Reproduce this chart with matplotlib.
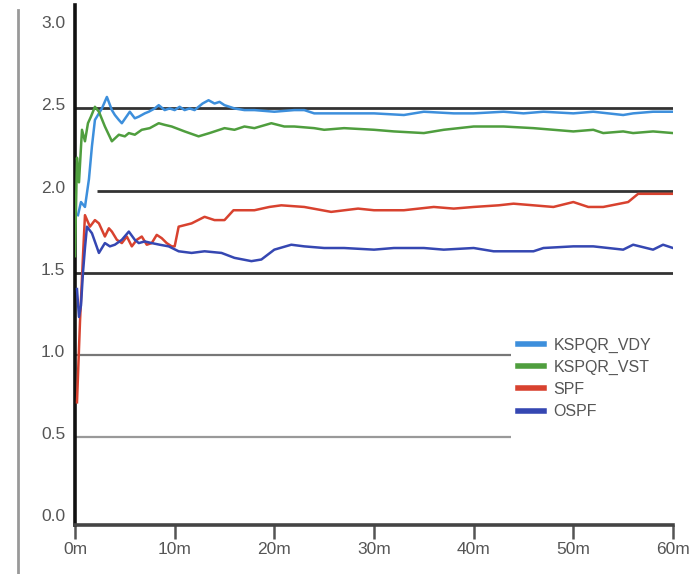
import matplotlib
matplotlib.use("Agg")
import matplotlib.pyplot as plt
import matplotlib.transforms as mtransforms
from matplotlib.lines import Line2D

# ---- data (minutes, value) ----
vdy_t = [0.3, 0.6, 1.0, 1.4, 1.7, 2.0, 2.7, 3.2, 3.7, 4.0, 4.4, 4.7, 5.5, 6.0, 6.4, 7.0, 7.4, 8.0, 8.4, 9.0,
         9.5, 10, 10.5, 11, 11.5, 12, 12.8, 13.4, 14, 14.5, 15, 15.5, 16, 17, 18, 20, 22, 23, 24,
         27, 30, 33, 35, 38, 40, 43, 45, 47, 50, 52, 55, 56, 58, 60]
vdy_v = [1.85, 1.93, 1.90, 2.07, 2.27, 2.43, 2.50, 2.57, 2.49, 2.46, 2.43, 2.41, 2.48, 2.44, 2.45, 2.47, 2.48, 2.50, 2.52, 2.49,
         2.50, 2.49, 2.51, 2.49, 2.50, 2.49, 2.53, 2.55, 2.53, 2.54, 2.52, 2.51, 2.50, 2.49, 2.49, 2.48, 2.49, 2.49, 2.47,
         2.47, 2.47, 2.46, 2.48, 2.47, 2.47, 2.48, 2.47, 2.48, 2.47, 2.48, 2.46, 2.47, 2.48, 2.48]

vst_t = [0.0, 0.2, 0.4, 0.7, 1.0, 1.3, 1.6, 2.0, 2.4, 3.0, 3.7, 4.4, 5.0, 5.4, 6.0, 6.7, 7.5, 8.4, 9.0, 9.7,
         11, 12.4, 13.5, 15, 16, 17, 18, 19.7, 21, 22, 24, 25, 27, 30, 32, 35, 37, 40, 43, 46, 48, 50, 52, 53, 55, 56, 58, 60]
vst_v = [1.60, 2.20, 2.05, 2.37, 2.30, 2.41, 2.45, 2.51, 2.48, 2.39, 2.30, 2.34, 2.33, 2.35, 2.34, 2.37, 2.38, 2.41, 2.40, 2.39,
         2.36, 2.33, 2.35, 2.38, 2.37, 2.39, 2.38, 2.41, 2.39, 2.39, 2.38, 2.37, 2.38, 2.37, 2.36, 2.35, 2.37, 2.39, 2.39, 2.38, 2.37, 2.36, 2.37, 2.35, 2.36, 2.35, 2.36, 2.35]

spf_t = [0.2, 0.5, 0.8, 1.0, 1.5, 2.0, 2.4, 3.0, 3.4, 3.7, 4.2, 4.7, 5.2, 5.7, 6.2, 6.7, 7.2, 7.7, 8.2, 8.7, 9.2, 9.7, 10.0, 10.4, 11.7,
         13, 14, 15, 15.9, 17, 18, 19.5, 20.7, 23, 25.7, 28.4, 30, 33, 36, 38, 40, 42.5, 44, 46, 48, 50, 51.5, 53, 55.5, 56.5, 60]
spf_v = [0.71, 1.20, 1.60, 1.85, 1.78, 1.82, 1.80, 1.72, 1.77, 1.75, 1.70, 1.68, 1.72, 1.66, 1.70, 1.72, 1.67, 1.68, 1.73, 1.71, 1.68, 1.66, 1.66, 1.78, 1.80,
         1.84, 1.82, 1.82, 1.88, 1.88, 1.88, 1.90, 1.91, 1.90, 1.87, 1.89, 1.88, 1.88, 1.90, 1.89, 1.90, 1.91, 1.92, 1.91, 1.90, 1.93, 1.90, 1.90, 1.93, 1.98, 1.98]

ospf_t = [0.2, 0.4, 0.6, 0.8, 1.0, 1.2, 1.7, 2.4, 3.0, 3.5, 4.0, 4.7, 5.4, 6.0, 6.4, 7.0, 7.7, 8.5, 9.4, 10.4, 11.7,
          13, 14.7, 16, 17.7, 18.7, 20, 21.7, 23, 25, 27, 30, 32, 35, 37, 40, 42, 44, 46, 47, 50, 52, 55, 56, 58, 59, 60]
ospf_v = [1.40, 1.23, 1.30, 1.50, 1.65, 1.78, 1.74, 1.62, 1.68, 1.66, 1.67, 1.70, 1.75, 1.70, 1.68, 1.69, 1.68, 1.67, 1.66, 1.63, 1.62,
          1.63, 1.62, 1.59, 1.57, 1.58, 1.64, 1.67, 1.66, 1.65, 1.65, 1.64, 1.65, 1.65, 1.64, 1.65, 1.63, 1.63, 1.63, 1.65, 1.66, 1.66, 1.64, 1.67, 1.64, 1.67, 1.65]

labels = ["KSPQR_VDY", "KSPQR_VST", "SPF", "OSPF"]
colors = ["#3d8fdc", "#4f9e3e", "#d8422f", "#3547b2"]

x_ticks = [0, 10, 20, 30, 40, 50, 60]
x_labels = ["0m", "10m", "20m", "30m", "40m", "50m", "60m"]
y_ticks = [0.0, 0.5, 1.0, 1.5, 2.0, 2.5, 3.0]
y_labels = ["0.0", "0.5", "1.0", "1.5", "2.0", "2.5", "3.0"]

plt.rcParams['font.family'] = ['Liberation Sans', 'DejaVu Sans']

fig = plt.figure(figsize=(6.98, 5.74), dpi=100)
ax = fig.add_axes([75 / 698, 1 - 525 / 574, 598 / 698, 520 / 574])
ax.set_xlim(0, 60)
ax.set_ylim(-0.037, 3.13)

# reference lines
ax.hlines(2.5, 0, 60.2, color="#333333", lw=2.0, zorder=1)
ax.hlines(2.0, 2.2, 60.2, color="#333333", lw=2.0, zorder=1)
ax.hlines(1.5, 0, 60.2, color="#333333", lw=2.0, zorder=1)
ax.hlines(1.0, 0, 43.7, color="#777777", lw=1.6, zorder=1)
ax.hlines(0.5, 0, 43.7, color="#999999", lw=1.6, zorder=1)

series = [(vdy_t, vdy_v), (vst_t, vst_v), (spf_t, spf_v), (ospf_t, ospf_v)]
for (t, v), lab, c in zip(series, labels, colors):
    ax.plot(t, v, color=c, lw=1.8, label=lab, zorder=3)

for s in ["top", "right"]:
    ax.spines[s].set_visible(False)
ax.spines["left"].set_color("#111111")
ax.spines["left"].set_linewidth(2.6)
ax.spines["bottom"].set_color("#444444")
ax.spines["bottom"].set_linewidth(2.6)

ax.set_xticks(x_ticks)
ax.set_xticklabels(x_labels)
ax.set_yticks(y_ticks)
ax.set_yticklabels(y_labels)
ax.tick_params(axis="x", length=10, width=1.8, color="#555555", labelsize=12.5,
               labelcolor="#555555", pad=2)
ax.tick_params(axis="y", length=0, labelsize=12.5, labelcolor="#555555", pad=7)
off = mtransforms.ScaledTranslation(0, 4 / 100, fig.dpi_scale_trans)
for lbl in ax.get_yticklabels():
    lbl.set_transform(lbl.get_transform() + off)

leg = ax.legend(loc="upper left", bbox_to_anchor=(437 / 598, 1 - 326 / 520), frameon=False,
                fontsize=11.5, handlelength=1.6, handletextpad=0.6, labelspacing=0.45,
                borderaxespad=0)
for h in leg.get_lines():
    h.set_linewidth(4)
for tx in leg.get_texts():
    tx.set_color("#555555")

# scan-edge line on the left
fig.add_artist(Line2D([18 / 698, 18 / 698], [0, 1 - 10 / 574], color="#999999", lw=2,
                      transform=fig.transFigure))

fig.savefig("out.png", dpi=100)
